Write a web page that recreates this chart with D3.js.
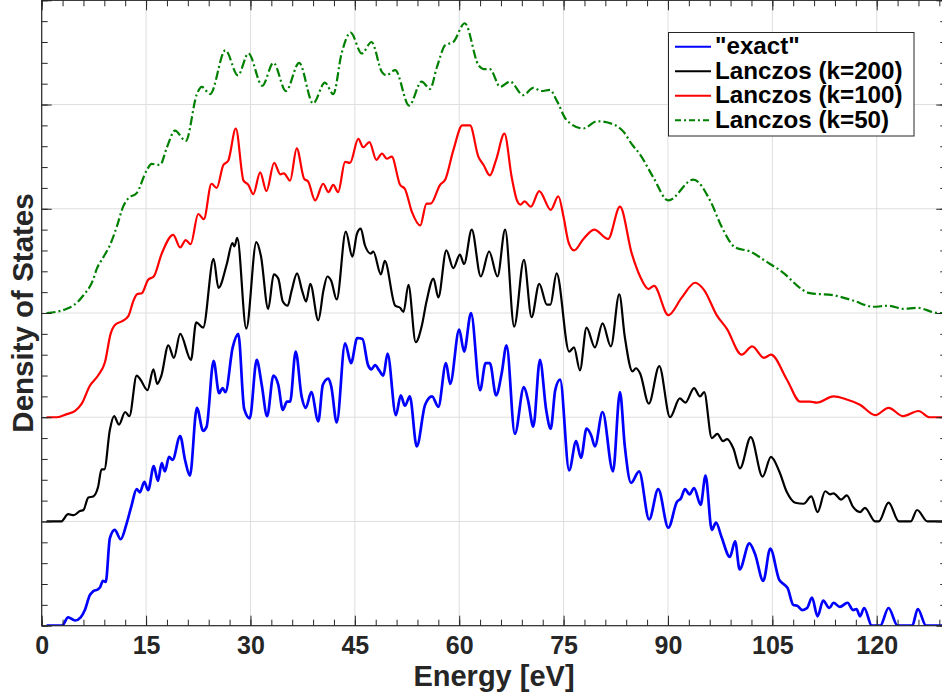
<!DOCTYPE html>
<html>
<head>
<meta charset="utf-8">
<script src="https://cdn.jsdelivr.net/npm/d3@7"></script>
<style>
  body { margin: 0; background: #fff; }
  svg { display: block; font-family: "Liberation Sans", Arial, Helvetica, sans-serif; }
</style>
</head>
<body>
<div id="chart"></div>
<script>
// ---- data: [energy eV, DOS (arbitrary, before vertical shift)]
var seriesNames = ['"exact"', "Lanczos (k=200)", "Lanczos (k=100)", "Lanczos (k=50)"];
var seriesColors = ["#0000ff", "#000000", "#ff0000", "#008000"];
var seriesOffsets = [0, 1, 2, 3];
var xTickLabels = [0, 15, 30, 45, 60, 75, 90, 105, 120];

var exactPts = [[0.7,0],[2.9,0],[3.8,0.08],[4.8,0.05],[5.6,0.08],[6.2,0.15],[6.9,0.29],[7.4,0.33],[8.1,0.35],[8.4,0.37],[8.8,0.43],[9.2,0.42],[9.8,0.84],[10.5,0.92],[11.35,0.83],[12.2,0.98],[12.9,1.15],[13.65,1.31],[14.1,1.28],[14.75,1.38],[15.3,1.30],[16.1,1.53],[16.7,1.39],[17.25,1.56],[17.7,1.48],[18.3,1.62],[18.8,1.59],[19.9,1.82],[20.6,1.59],[21.3,1.44],[22.3,2.09],[23.2,1.87],[23.7,1.91],[24.7,2.54],[25.5,2.23],[26.0,2.28],[26.4,2.24],[27.45,2.67],[28.25,2.80],[29.1,2.08],[29.9,1.99],[30.9,2.55],[31.6,2.32],[32.4,2.01],[33.3,2.40],[34.0,2.31],[34.65,2.07],[35.25,2.15],[35.7,2.15],[36.5,2.63],[37.35,2.20],[37.95,2.09],[38.75,2.24],[39.75,1.96],[40.4,2.31],[41.2,2.37],[41.6,2.30],[42.4,1.95],[43.6,2.71],[44.45,2.52],[45.35,2.76],[46.1,2.75],[46.9,2.50],[47.4,2.46],[47.9,2.50],[48.5,2.45],[49.1,2.40],[49.7,2.61],[50.9,2.02],[51.6,2.21],[52.2,2.11],[52.9,2.20],[53.9,1.72],[55.1,2.12],[56.1,2.20],[57.0,2.10],[58.1,2.52],[58.7,2.32],[60.0,2.84],[60.7,2.63],[61.7,3.00],[63.0,2.26],[63.8,2.52],[64.4,2.52],[65.3,2.21],[66.1,2.42],[66.8,2.69],[68.0,1.84],[69.3,2.29],[69.9,2.16],[70.65,1.91],[71.6,2.55],[72.5,2.07],[73.15,1.89],[73.8,2.26],[74.5,2.36],[75.8,1.49],[76.8,1.77],[77.5,1.61],[78.3,1.89],[79.0,1.82],[79.5,1.72],[80.6,2.05],[82.1,1.48],[83.1,2.24],[83.8,1.72],[84.7,1.37],[85.85,1.48],[87.3,1.02],[88.6,1.31],[90.05,0.94],[91.3,1.19],[91.85,1.22],[92.45,1.31],[93.1,1.26],[93.75,1.32],[94.7,1.16],[95.4,1.44],[96.3,0.92],[96.9,0.99],[97.7,0.85],[98.9,0.66],[99.65,0.81],[100.3,0.54],[101.7,0.79],[102.5,0.69],[103.7,0.43],[104.7,0.74],[106.0,0.44],[106.6,0.40],[107.2,0.36],[108.0,0.20],[108.6,0.19],[109.3,0.15],[110.0,0.17],[110.7,0.27],[111.5,0.09],[112.3,0.24],[113.2,0.17],[113.8,0.22],[114.7,0.18],[115.8,0.22],[116.6,0.15],[117.1,0.16],[117.6,0.09],[118.2,0.17],[119.3,0],[120.5,0],[121.7,0.17],[123.0,0],[125.1,0],[125.9,0.16],[127.1,0],[130,0]];

var k200Pts = [[0.7,0],[2.8,0],[3.8,0.07],[4.6,0.06],[5.5,0.10],[6.0,0.11],[6.7,0.23],[7.4,0.24],[8.1,0.33],[8.6,0.50],[9.0,0.50],[9.8,0.88],[10.4,1.01],[11.1,0.93],[12.0,1.05],[12.6,1.01],[13.65,1.40],[14.2,1.36],[15.2,1.26],[16.05,1.46],[16.6,1.32],[17.2,1.40],[18.2,1.69],[19.0,1.57],[19.9,1.80],[21.45,1.55],[22.2,1.91],[23.2,1.86],[24.7,2.52],[25.4,2.24],[26.6,2.47],[27.4,2.67],[27.7,2.64],[28.1,2.72],[29.4,1.85],[30.85,2.68],[31.5,2.55],[32.55,2.04],[33.35,2.37],[34.0,2.33],[34.65,2.11],[35.35,2.07],[35.9,2.21],[36.7,2.38],[37.4,2.22],[38.0,2.11],[38.6,2.28],[39.75,1.93],[40.5,2.22],[41.05,2.35],[41.6,2.31],[42.4,2.13],[43.7,2.78],[44.65,2.54],[45.3,2.76],[45.85,2.81],[46.45,2.65],[47.3,2.57],[47.65,2.59],[48.75,2.37],[49.3,2.50],[50.8,2.07],[51.5,2.05],[52.0,2.01],[52.7,2.27],[53.75,1.72],[54.6,1.87],[55.3,2.11],[56.3,2.33],[57.0,2.15],[58.15,2.60],[59.15,2.43],[60.1,2.56],[60.7,2.47],[61.8,2.80],[63.1,2.35],[64.3,2.59],[65.5,2.35],[66.6,2.80],[67.9,1.87],[69.3,2.51],[70.4,1.96],[71.5,2.28],[72.6,2.08],[73.1,2.08],[74.0,2.38],[75.8,1.63],[76.5,1.67],[77.35,1.45],[78.3,1.86],[79.5,1.67],[80.6,1.90],[81.8,1.68],[83.0,2.18],[83.8,1.77],[84.9,1.44],[85.4,1.47],[86.0,1.42],[87.25,1.13],[88.75,1.49],[90.3,1.00],[91.7,1.18],[92.5,1.14],[93.75,1.28],[94.6,1.20],[95.2,1.24],[96.3,0.80],[97.1,0.84],[97.9,0.77],[98.5,0.79],[99.4,0.70],[100.35,0.51],[101.9,0.81],[103.6,0.43],[104.8,0.62],[106.0,0.48],[107.1,0.28],[108.3,0.18],[109.5,0.17],[110.6,0.24],[111.5,0.09],[112.6,0.29],[113.3,0.26],[113.8,0.27],[114.9,0.21],[115.7,0.25],[116.6,0.14],[117.6,0.09],[118.3,0.13],[119.8,0],[120.3,0],[121.7,0.18],[123.2,0],[124.9,0],[125.8,0.11],[127.3,0],[130,0]];

var k100Pts = [[0.7,0],[2.2,0],[3.6,0.03],[4.8,0.06],[5.75,0.13],[6.9,0.30],[8.1,0.40],[9.1,0.53],[9.9,0.80],[10.6,0.89],[11.5,0.92],[12.45,0.97],[13.2,1.12],[13.7,1.18],[14.4,1.19],[15.3,1.32],[16.1,1.35],[17.25,1.57],[18.9,1.75],[19.9,1.63],[20.7,1.70],[21.4,1.66],[22.5,1.95],[23.3,1.90],[24.4,2.24],[25.15,2.20],[26.1,2.42],[26.8,2.46],[27.9,2.77],[29.0,2.27],[29.7,2.23],[30.4,2.14],[31.4,2.35],[32.3,2.17],[33.4,2.44],[34.3,2.33],[34.8,2.34],[35.7,2.27],[36.65,2.58],[37.7,2.29],[38.3,2.26],[39.3,2.08],[40.45,2.24],[41.2,2.16],[41.9,2.23],[42.6,2.16],[43.6,2.45],[44.3,2.44],[45.5,2.67],[46.2,2.59],[47.1,2.64],[48.1,2.47],[48.9,2.53],[49.6,2.48],[50.3,2.50],[51.5,2.23],[52.2,2.19],[53.2,1.97],[54.4,1.84],[55.3,2.05],[55.9,2.05],[57.25,2.23],[58.0,2.28],[59.15,2.56],[60.45,2.80],[61.55,2.80],[62.75,2.50],[63.5,2.42],[64.4,2.32],[65.3,2.47],[66.5,2.72],[67.55,2.30],[68.3,2.08],[68.8,2.04],[69.4,2.07],[70.3,2.02],[71.5,2.17],[73.15,1.99],[74.25,2.12],[75.0,1.92],[75.7,1.68],[76.5,1.60],[77.85,1.71],[79.4,1.80],[81.4,1.71],[83.1,2.02],[84.8,1.57],[86.0,1.35],[87.2,1.23],[88.0,1.26],[90.05,0.98],[92.0,1.15],[93.9,1.29],[95.2,1.22],[97.0,0.98],[98.45,0.85],[100.6,0.60],[102.1,0.68],[103.8,0.57],[104.8,0.60],[107.1,0.36],[109.0,0.15],[110.4,0.15],[111.4,0.14],[113.8,0.20],[115.7,0.17],[117.6,0.12],[119.8,0.02],[121.7,0.09],[123.8,0.01],[126.0,0.06],[127.6,0],[130,0]];

var k50Pts = [[0.7,0],[2.0,0.01],[3.6,0.04],[4.5,0.07],[6.0,0.17],[7.4,0.32],[7.9,0.42],[8.9,0.54],[9.8,0.65],[10.8,0.83],[11.7,1.02],[12.45,1.10],[13.65,1.15],[15.1,1.37],[15.8,1.43],[17.0,1.42],[18.0,1.59],[19.15,1.75],[20.7,1.65],[22.3,2.10],[23.0,2.17],[24.2,2.10],[26.4,2.52],[28.2,2.28],[29.7,2.49],[31.7,2.18],[33.3,2.40],[35.1,2.13],[37.0,2.40],[39.0,2.01],[40.7,2.21],[41.9,2.10],[43.1,2.49],[44.4,2.69],[46.0,2.49],[47.4,2.60],[48.9,2.31],[49.5,2.28],[50.8,2.33],[52.8,1.99],[54.6,2.22],[55.8,2.15],[56.8,2.36],[58.0,2.57],[59.15,2.60],[60.8,2.78],[62.75,2.38],[63.5,2.34],[64.4,2.34],[65.9,2.17],[67.3,2.22],[69.2,2.09],[70.65,2.16],[71.8,2.13],[73.05,2.14],[74.0,2.04],[75.45,1.85],[77.85,1.77],[79.8,1.84],[82.15,1.81],[83.6,1.74],[84.8,1.62],[86.0,1.52],[87.9,1.30],[90.05,1.08],[93.65,1.28],[96.05,1.08],[97.7,0.83],[99.65,0.63],[101.8,0.59],[104.2,0.49],[106.1,0.41],[110.4,0.19],[113.8,0.17],[116.6,0.12],[119.5,0.06],[121.7,0.07],[123.8,0.04],[125.8,0.05],[128.8,0],[130,0]];

var seriesData = [exactPts, k200Pts, k100Pts, k50Pts];

// ---- layout
var W = 942, H = 694;
var x = d3.scaleLinear().domain([0, 130]).range([41.7, 946.3]);
var y = d3.scaleLinear().domain([0, 6]).range([625.7, 0.3]);
var ink = "#262626";

var svg = d3.select("#chart").append("svg")
    .attr("width", W)
    .attr("height", H);

svg.append("defs").append("clipPath").attr("id", "plotclip")
    .append("rect")
    .attr("x", x(0)).attr("y", y(6))
    .attr("width", x(130) - x(0)).attr("height", y(0) - y(6));

// grid
var grid = svg.append("g");
grid.selectAll(".vg").data(xTickLabels).enter().append("line")
    .attr("x1", d => x(d)).attr("x2", d => x(d))
    .attr("y1", y(0)).attr("y2", y(6))
    .attr("stroke", "#dedede").attr("stroke-width", 1);
grid.selectAll(".hg").data(d3.range(1, 6)).enter().append("line")
    .attr("x1", x(0)).attr("x2", x(130))
    .attr("y1", d => y(d)).attr("y2", d => y(d))
    .attr("stroke", "#dedede").attr("stroke-width", 1);

// curves
var line = d3.line()
    .x(d => x(d[0]))
    .y(d => y(d[1]))
    .curve(d3.curveMonotoneX);

var curves = svg.append("g").attr("clip-path", "url(#plotclip)");
// draw from back (k=50) to front ("exact")
for (var i = seriesData.length - 1; i >= 0; i--) {
    var off = seriesOffsets[i];
    var pts = seriesData[i].map(p => [p[0], p[1] + off]);
    var path = curves.append("path")
        .datum(pts)
        .attr("fill", "none")
        .attr("stroke", seriesColors[i])
        .attr("stroke-width", i == 0 ? 2.7 : 2.2)
        .attr("stroke-linejoin", "round")
        .attr("d", line);
    if (i == 3) path.attr("stroke-dasharray", "9,3,2,3");
}

// axes (ticks point inward, box all round)
function styleAxis(g) {
    g.select(".domain").remove();
    g.selectAll("line").attr("stroke", ink).attr("stroke-width", 1);
}
var minorX = d3.range(0, 131, 3);
var minorY = d3.range(0, 6.01, 0.2);

svg.append("g").attr("transform", "translate(0," + y(0) + ")")
    .call(d3.axisBottom(x).tickValues(minorX).tickSize(-6).tickFormat(""))
    .call(styleAxis);
var xAxis = svg.append("g").attr("transform", "translate(0," + y(0) + ")")
    .call(d3.axisBottom(x).tickValues(xTickLabels).tickSize(-10).tickPadding(10.5).tickFormat(d3.format("d")))
    .call(styleAxis);
xAxis.selectAll("text")
    .attr("fill", ink)
    .attr("font-size", "25px")
    .attr("font-weight", "bold")
    .attr("font-family", '"Liberation Sans", Arial, sans-serif');

svg.append("g").attr("transform", "translate(0," + y(6) + ")")
    .call(d3.axisTop(x).tickValues(minorX).tickSize(-6).tickFormat(""))
    .call(styleAxis);
svg.append("g").attr("transform", "translate(0," + y(6) + ")")
    .call(d3.axisTop(x).tickValues(xTickLabels).tickSize(-10).tickFormat(""))
    .call(styleAxis);

svg.append("g").attr("transform", "translate(" + x(0) + ",0)")
    .call(d3.axisLeft(y).tickValues(minorY).tickSize(-6).tickFormat(""))
    .call(styleAxis);
svg.append("g").attr("transform", "translate(" + x(0) + ",0)")
    .call(d3.axisLeft(y).tickValues(d3.range(0, 7)).tickSize(-10).tickFormat(""))
    .call(styleAxis);
svg.append("g").attr("transform", "translate(" + x(130) + ",0)")
    .call(d3.axisRight(y).tickValues(minorY).tickSize(-6).tickFormat(""))
    .call(styleAxis);
svg.append("g").attr("transform", "translate(" + x(130) + ",0)")
    .call(d3.axisRight(y).tickValues(d3.range(0, 7)).tickSize(-10).tickFormat(""))
    .call(styleAxis);

svg.append("rect")
    .attr("x", x(0)).attr("y", y(6))
    .attr("width", x(130) - x(0)).attr("height", y(0) - y(6))
    .attr("fill", "none").attr("stroke", ink).attr("stroke-width", 1.2);

// axis labels
svg.append("text")
    .attr("x", 494).attr("y", 686)
    .attr("text-anchor", "middle")
    .attr("font-size", "29px").attr("font-weight", "bold")
    .attr("fill", ink)
    .text("Energy [eV]");

svg.append("text")
    .attr("transform", "translate(33," + 313 + ") rotate(-90)")
    .attr("text-anchor", "middle")
    .attr("font-size", "29.5px").attr("font-weight", "bold")
    .attr("fill", ink)
    .text("Density of States");

// legend
var lg = svg.append("g");
lg.append("rect")
    .attr("x", 668.5).attr("y", 32.5)
    .attr("width", 245.5).attr("height", 103.5)
    .attr("fill", "#fff").attr("stroke", ink).attr("stroke-width", 1);
seriesNames.forEach(function (name, i) {
    var ly = 46.7 + i * 24.5;
    var l = lg.append("line")
        .attr("x1", 675).attr("x2", 711)
        .attr("y1", ly).attr("y2", ly)
        .attr("stroke", seriesColors[i])
        .attr("stroke-width", 2);
    if (i == 3) l.attr("stroke-dasharray", "6,3,2,3");
    lg.append("text")
        .attr("x", 715).attr("y", ly + 7.5)
        .attr("font-size", "24.2px").attr("font-weight", "bold")
        .attr("fill", "#000")
        .text(name);
});
</script>
</body>
</html>
